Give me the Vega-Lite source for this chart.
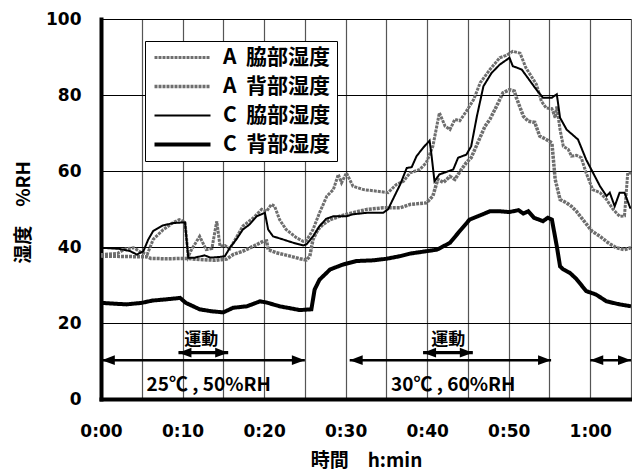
{
  "$schema": "https://vega.github.io/schema/vega-lite/v6.json",
  "width": 530,
  "height": 380,
  "autosize": {"type": "none"},
  "padding": {"left": 101, "top": 19, "right": 1, "bottom": 71},
  "background": "white",
  "config": {
    "view": {"stroke": null},
    "axis": {
      "labelFont": "DejaVu Sans",
      "labelFontWeight": "bold",
      "labelFontSize": 17,
      "labelColor": "black",
      "titleFont": "Noto Sans CJK JP",
      "titleFontWeight": "bold",
      "titleFontSize": 19,
      "titleColor": "black",
      "ticks": false,
      "domainColor": "black",
      "domainWidth": 4,
      "domainCap": "square"
    }
  },
  "datasets": {
    "lines": [
      {"s": "A 脇部湿度", "t": 0, "v": 38.0},
      {"s": "A 脇部湿度", "t": 2, "v": 38.3},
      {"s": "A 脇部湿度", "t": 3, "v": 39.5},
      {"s": "A 脇部湿度", "t": 4, "v": 39.8},
      {"s": "A 脇部湿度", "t": 5, "v": 38.5},
      {"s": "A 脇部湿度", "t": 5.7, "v": 38.2},
      {"s": "A 脇部湿度", "t": 6.4, "v": 42},
      {"s": "A 脇部湿度", "t": 7.6, "v": 44.5},
      {"s": "A 脇部湿度", "t": 8.9, "v": 46.5},
      {"s": "A 脇部湿度", "t": 9.6, "v": 47.2},
      {"s": "A 脇部湿度", "t": 10.3, "v": 46.6},
      {"s": "A 脇部湿度", "t": 10.7, "v": 37.5},
      {"s": "A 脇部湿度", "t": 11.1, "v": 39.3},
      {"s": "A 脇部湿度", "t": 12.1, "v": 42.8},
      {"s": "A 脇部湿度", "t": 12.9, "v": 39.3},
      {"s": "A 脇部湿度", "t": 13.6, "v": 39.6},
      {"s": "A 脇部湿度", "t": 14.2, "v": 46.8},
      {"s": "A 脇部湿度", "t": 14.6, "v": 40.2},
      {"s": "A 脇部湿度", "t": 15.2, "v": 40.4},
      {"s": "A 脇部湿度", "t": 15.8, "v": 39.5},
      {"s": "A 脇部湿度", "t": 16.6, "v": 42.5},
      {"s": "A 脇部湿度", "t": 17.4, "v": 45.5},
      {"s": "A 脇部湿度", "t": 18.7, "v": 47.7},
      {"s": "A 脇部湿度", "t": 19.7, "v": 49.9},
      {"s": "A 脇部湿度", "t": 20.3, "v": 49.4},
      {"s": "A 脇部湿度", "t": 20.9, "v": 51.2},
      {"s": "A 脇部湿度", "t": 21.3, "v": 50.7},
      {"s": "A 脇部湿度", "t": 21.9, "v": 47.2},
      {"s": "A 脇部湿度", "t": 22.7, "v": 44.6},
      {"s": "A 脇部湿度", "t": 24, "v": 42.4},
      {"s": "A 脇部湿度", "t": 24.8, "v": 41.5},
      {"s": "A 脇部湿度", "t": 25.2, "v": 41.7},
      {"s": "A 脇部湿度", "t": 26, "v": 44.6},
      {"s": "A 脇部湿度", "t": 26.8, "v": 49},
      {"s": "A 脇部湿度", "t": 27.7, "v": 53.4},
      {"s": "A 脇部湿度", "t": 28.5, "v": 55.1},
      {"s": "A 脇部湿度", "t": 29.1, "v": 59.1},
      {"s": "A 脇部湿度", "t": 29.5, "v": 56.9},
      {"s": "A 脇部湿度", "t": 30.1, "v": 59.5},
      {"s": "A 脇部湿度", "t": 30.9, "v": 56},
      {"s": "A 脇部湿度", "t": 32.2, "v": 55.1},
      {"s": "A 脇部湿度", "t": 33.8, "v": 54.7},
      {"s": "A 脇部湿度", "t": 35.2, "v": 54.3},
      {"s": "A 脇部湿度", "t": 36.2, "v": 56.4},
      {"s": "A 脇部湿度", "t": 37.1, "v": 57.3},
      {"s": "A 脇部湿度", "t": 37.9, "v": 59.5},
      {"s": "A 脇部湿度", "t": 39.1, "v": 60.4},
      {"s": "A 脇部湿度", "t": 39.9, "v": 62.2},
      {"s": "A 脇部湿度", "t": 40.7, "v": 66.5},
      {"s": "A 脇部湿度", "t": 41.5, "v": 75.3},
      {"s": "A 脇部湿度", "t": 42.2, "v": 71.8},
      {"s": "A 脇部湿度", "t": 42.8, "v": 70.9},
      {"s": "A 脇部湿度", "t": 43.4, "v": 73.6},
      {"s": "A 脇部湿度", "t": 44, "v": 73.2},
      {"s": "A 脇部湿度", "t": 44.8, "v": 75.7},
      {"s": "A 脇部湿度", "t": 45.7, "v": 78.8},
      {"s": "A 脇部湿度", "t": 46.5, "v": 83.2},
      {"s": "A 脇部湿度", "t": 47.7, "v": 86.7},
      {"s": "A 脇部湿度", "t": 48.9, "v": 89.8},
      {"s": "A 脇部湿度", "t": 49.7, "v": 90.4},
      {"s": "A 脇部湿度", "t": 50.5, "v": 91.5},
      {"s": "A 脇部湿度", "t": 51.4, "v": 91},
      {"s": "A 脇部湿度", "t": 52.1, "v": 87.2},
      {"s": "A 脇部湿度", "t": 53.4, "v": 82.8},
      {"s": "A 脇部湿度", "t": 54, "v": 78.4},
      {"s": "A 脇部湿度", "t": 54.6, "v": 76.6},
      {"s": "A 脇部湿度", "t": 55.3, "v": 76.4},
      {"s": "A 脇部湿度", "t": 55.7, "v": 74},
      {"s": "A 脇部湿度", "t": 55.9, "v": 77},
      {"s": "A 脇部湿度", "t": 56.3, "v": 70.9},
      {"s": "A 脇部湿度", "t": 56.7, "v": 66.5},
      {"s": "A 脇部湿度", "t": 57.3, "v": 65.7},
      {"s": "A 脇部湿度", "t": 57.7, "v": 63.9},
      {"s": "A 脇部湿度", "t": 58.3, "v": 64.1},
      {"s": "A 脇部湿度", "t": 58.9, "v": 63.5},
      {"s": "A 脇部湿度", "t": 59.5, "v": 59.5},
      {"s": "A 脇部湿度", "t": 60.3, "v": 55.1},
      {"s": "A 脇部湿度", "t": 61.2, "v": 54.3},
      {"s": "A 脇部湿度", "t": 62, "v": 52.5},
      {"s": "A 脇部湿度", "t": 62.8, "v": 49.9},
      {"s": "A 脇部湿度", "t": 63.6, "v": 48.1},
      {"s": "A 脇部湿度", "t": 64.2, "v": 48.2},
      {"s": "A 脇部湿度", "t": 64.6, "v": 59.5},
      {"s": "A 脇部湿度", "t": 65, "v": 59.5},

      {"s": "A 背部湿度", "t": 0, "v": 37.6},
      {"s": "A 背部湿度", "t": 3, "v": 37.5},
      {"s": "A 背部湿度", "t": 5.7, "v": 37.4},
      {"s": "A 背部湿度", "t": 6.1, "v": 37.0},
      {"s": "A 背部湿度", "t": 8, "v": 36.9},
      {"s": "A 背部湿度", "t": 10.5, "v": 37.0},
      {"s": "A 背部湿度", "t": 12.1, "v": 36.7},
      {"s": "A 背部湿度", "t": 14, "v": 36.5},
      {"s": "A 背部湿度", "t": 15.4, "v": 36.8},
      {"s": "A 背部湿度", "t": 16.2, "v": 38},
      {"s": "A 背部湿度", "t": 17.4, "v": 38.9},
      {"s": "A 背部湿度", "t": 18.7, "v": 40.2},
      {"s": "A 背部湿度", "t": 19.9, "v": 41.5},
      {"s": "A 背部湿度", "t": 20.3, "v": 41.6},
      {"s": "A 背部湿度", "t": 20.5, "v": 39.3},
      {"s": "A 背部湿度", "t": 21.5, "v": 38.5},
      {"s": "A 背部湿度", "t": 23.2, "v": 37.6},
      {"s": "A 背部湿度", "t": 24.4, "v": 36.9},
      {"s": "A 背部湿度", "t": 25.2, "v": 36.6},
      {"s": "A 背部湿度", "t": 25.6, "v": 37.5},
      {"s": "A 背部湿度", "t": 26, "v": 42},
      {"s": "A 背部湿度", "t": 26.6, "v": 44.6},
      {"s": "A 背部湿度", "t": 27.2, "v": 45.9},
      {"s": "A 背部湿度", "t": 28.1, "v": 47.2},
      {"s": "A 背部湿度", "t": 29.3, "v": 48.1},
      {"s": "A 背部湿度", "t": 30.9, "v": 49},
      {"s": "A 背部湿度", "t": 32.6, "v": 49.9},
      {"s": "A 背部湿度", "t": 34.6, "v": 50.3},
      {"s": "A 背部湿度", "t": 36.7, "v": 50.3},
      {"s": "A 背部湿度", "t": 37.9, "v": 51.2},
      {"s": "A 背部湿度", "t": 39.9, "v": 51.6},
      {"s": "A 背部湿度", "t": 40.7, "v": 53.4},
      {"s": "A 背部湿度", "t": 41.3, "v": 57.8},
      {"s": "A 背部湿度", "t": 42, "v": 57},
      {"s": "A 背部湿度", "t": 42.8, "v": 58.6},
      {"s": "A 背部湿度", "t": 43.4, "v": 57.8},
      {"s": "A 背部湿度", "t": 44.2, "v": 60.4},
      {"s": "A 背部湿度", "t": 44.8, "v": 62.2},
      {"s": "A 背部湿度", "t": 45.4, "v": 63.5},
      {"s": "A 背部湿度", "t": 46.2, "v": 67.4},
      {"s": "A 背部湿度", "t": 47.1, "v": 71.8},
      {"s": "A 背部湿度", "t": 47.7, "v": 73.6},
      {"s": "A 背部湿度", "t": 48.5, "v": 77},
      {"s": "A 背部湿度", "t": 49.3, "v": 80.6},
      {"s": "A 背部湿度", "t": 50.1, "v": 81.4},
      {"s": "A 背部湿度", "t": 50.7, "v": 81},
      {"s": "A 背部湿度", "t": 50.9, "v": 79.5},
      {"s": "A 背部湿度", "t": 51.8, "v": 74.4},
      {"s": "A 背部湿度", "t": 52.4, "v": 73.1},
      {"s": "A 背部湿度", "t": 53.2, "v": 72.8},
      {"s": "A 背部湿度", "t": 53.8, "v": 69.2},
      {"s": "A 背部湿度", "t": 54.6, "v": 68.3},
      {"s": "A 背部湿度", "t": 55.3, "v": 67.4},
      {"s": "A 背部湿度", "t": 55.7, "v": 57.8},
      {"s": "A 背部湿度", "t": 56.3, "v": 52.5},
      {"s": "A 背部湿度", "t": 57.1, "v": 51.6},
      {"s": "A 背部湿度", "t": 57.7, "v": 50.7},
      {"s": "A 背部湿度", "t": 58.3, "v": 49.4},
      {"s": "A 背部湿度", "t": 59.1, "v": 47.2},
      {"s": "A 背部湿度", "t": 60.2, "v": 44.2},
      {"s": "A 背部湿度", "t": 61.2, "v": 42.8},
      {"s": "A 背部湿度", "t": 62.2, "v": 41.1},
      {"s": "A 背部湿度", "t": 63.2, "v": 39.8},
      {"s": "A 背部湿度", "t": 64.2, "v": 39.3},
      {"s": "A 背部湿度", "t": 65, "v": 39.8},

      {"s": "C 脇部湿度", "t": 0, "v": 39.8},
      {"s": "C 脇部湿度", "t": 2.3, "v": 39.5},
      {"s": "C 脇部湿度", "t": 3.6, "v": 38.9},
      {"s": "C 脇部湿度", "t": 4.4, "v": 38.0},
      {"s": "C 脇部湿度", "t": 5.2, "v": 38.9},
      {"s": "C 脇部湿度", "t": 5.8, "v": 42},
      {"s": "C 脇部湿度", "t": 6.4, "v": 44.2},
      {"s": "C 脇部湿度", "t": 7.6, "v": 45.7},
      {"s": "C 脇部湿度", "t": 8.9, "v": 46.3},
      {"s": "C 脇部湿度", "t": 10.3, "v": 46.5},
      {"s": "C 脇部湿度", "t": 10.7, "v": 37.2},
      {"s": "C 脇部湿度", "t": 11.5, "v": 37.2},
      {"s": "C 脇部湿度", "t": 12.7, "v": 37.8},
      {"s": "C 脇部湿度", "t": 13.4, "v": 37.2},
      {"s": "C 脇部湿度", "t": 14.6, "v": 37.4},
      {"s": "C 脇部湿度", "t": 15.2, "v": 37.6},
      {"s": "C 脇部湿度", "t": 15.8, "v": 39.8},
      {"s": "C 脇部湿度", "t": 16.6, "v": 42},
      {"s": "C 脇部湿度", "t": 17.4, "v": 44.6},
      {"s": "C 脇部湿度", "t": 18.2, "v": 45.9},
      {"s": "C 脇部湿度", "t": 19.1, "v": 48.1},
      {"s": "C 脇部湿度", "t": 20.1, "v": 49},
      {"s": "C 脇部湿度", "t": 20.5, "v": 44.6},
      {"s": "C 脇部湿度", "t": 21.1, "v": 42.8},
      {"s": "C 脇部湿度", "t": 22.3, "v": 42},
      {"s": "C 脇部湿度", "t": 23.6, "v": 41.1},
      {"s": "C 脇部湿度", "t": 24.8, "v": 40.4},
      {"s": "C 脇部湿度", "t": 25.2, "v": 40.7},
      {"s": "C 脇部湿度", "t": 26, "v": 42.8},
      {"s": "C 脇部湿度", "t": 26.8, "v": 45.5},
      {"s": "C 脇部湿度", "t": 27.6, "v": 47.4},
      {"s": "C 脇部湿度", "t": 28.5, "v": 48.1},
      {"s": "C 脇部湿度", "t": 30.1, "v": 48.1},
      {"s": "C 脇部湿度", "t": 30.9, "v": 48.6},
      {"s": "C 脇部湿度", "t": 32.6, "v": 49},
      {"s": "C 脇部湿度", "t": 34.6, "v": 49},
      {"s": "C 脇部湿度", "t": 35.2, "v": 49.9},
      {"s": "C 脇部湿度", "t": 36.2, "v": 54.3},
      {"s": "C 脇部湿度", "t": 36.7, "v": 56.5},
      {"s": "C 脇部湿度", "t": 37.5, "v": 60.8},
      {"s": "C 脇部湿度", "t": 38.1, "v": 61},
      {"s": "C 脇部湿度", "t": 38.7, "v": 63.9},
      {"s": "C 脇部湿度", "t": 39.5, "v": 66.1},
      {"s": "C 脇部湿度", "t": 40.3, "v": 68},
      {"s": "C 脇部湿度", "t": 40.5, "v": 64.8},
      {"s": "C 脇部湿度", "t": 40.9, "v": 57.3},
      {"s": "C 脇部湿度", "t": 41.5, "v": 59.1},
      {"s": "C 脇部湿度", "t": 43.2, "v": 60.4},
      {"s": "C 脇部湿度", "t": 43.8, "v": 63.5},
      {"s": "C 脇部湿度", "t": 44.8, "v": 64.3},
      {"s": "C 脇部湿度", "t": 45.4, "v": 66.5},
      {"s": "C 脇部湿度", "t": 46.1, "v": 74.4},
      {"s": "C 脇部湿度", "t": 46.9, "v": 82.3},
      {"s": "C 脇部湿度", "t": 47.9, "v": 85.8},
      {"s": "C 脇部湿度", "t": 48.9, "v": 88},
      {"s": "C 脇部湿度", "t": 50.1, "v": 89.8},
      {"s": "C 脇部湿度", "t": 50.5, "v": 87.6},
      {"s": "C 脇部湿度", "t": 51.6, "v": 86.7},
      {"s": "C 脇部湿度", "t": 53.4, "v": 81.4},
      {"s": "C 脇部湿度", "t": 54.2, "v": 79.3},
      {"s": "C 脇部湿度", "t": 55.3, "v": 79.3},
      {"s": "C 脇部湿度", "t": 55.9, "v": 80.2},
      {"s": "C 脇部湿度", "t": 56.3, "v": 74},
      {"s": "C 脇部湿度", "t": 57.1, "v": 70.9},
      {"s": "C 脇部湿度", "t": 58.5, "v": 68.3},
      {"s": "C 脇部湿度", "t": 59.5, "v": 63},
      {"s": "C 脇部湿度", "t": 61.2, "v": 56},
      {"s": "C 脇部湿度", "t": 62, "v": 53.4},
      {"s": "C 脇部湿度", "t": 62.4, "v": 54.3},
      {"s": "C 脇部湿度", "t": 63, "v": 50.7},
      {"s": "C 脇部湿度", "t": 63.6, "v": 54.3},
      {"s": "C 脇部湿度", "t": 64.2, "v": 54.3},
      {"s": "C 脇部湿度", "t": 64.9, "v": 50.3},
      {"s": "C 脇部湿度", "t": 65, "v": 50.3},

      {"s": "C 背部湿度", "t": 0, "v": 25.3},
      {"s": "C 背部湿度", "t": 3.1, "v": 24.9},
      {"s": "C 背部湿度", "t": 5, "v": 25.3},
      {"s": "C 背部湿度", "t": 6.3, "v": 25.9},
      {"s": "C 背部湿度", "t": 7.9, "v": 26.2},
      {"s": "C 背部湿度", "t": 9.7, "v": 26.6},
      {"s": "C 背部湿度", "t": 10.4, "v": 25.3},
      {"s": "C 背部湿度", "t": 12.1, "v": 23.6},
      {"s": "C 背部湿度", "t": 13.5, "v": 23.1},
      {"s": "C 背部湿度", "t": 15, "v": 22.8},
      {"s": "C 背部湿度", "t": 16.2, "v": 24},
      {"s": "C 背部湿度", "t": 17.9, "v": 24.4},
      {"s": "C 背部湿度", "t": 19.5, "v": 25.7},
      {"s": "C 背部湿度", "t": 20.3, "v": 25.4},
      {"s": "C 背部湿度", "t": 21.9, "v": 24.4},
      {"s": "C 背部湿度", "t": 24.4, "v": 23.4},
      {"s": "C 背部湿度", "t": 25.8, "v": 23.6},
      {"s": "C 背部湿度", "t": 26.2, "v": 28.8},
      {"s": "C 背部湿度", "t": 26.8, "v": 31.4},
      {"s": "C 背部湿度", "t": 28.1, "v": 34.1},
      {"s": "C 背部湿度", "t": 29.7, "v": 35.4},
      {"s": "C 背部湿度", "t": 31.3, "v": 36.3},
      {"s": "C 背部湿度", "t": 33.4, "v": 36.5},
      {"s": "C 背部湿度", "t": 35, "v": 36.9},
      {"s": "C 背部湿度", "t": 36.7, "v": 37.6},
      {"s": "C 背部湿度", "t": 38, "v": 38.3},
      {"s": "C 背部湿度", "t": 41.2, "v": 39.3},
      {"s": "C 背部湿度", "t": 42.8, "v": 41.1},
      {"s": "C 背部湿度", "t": 44, "v": 44.2},
      {"s": "C 背部湿度", "t": 45.2, "v": 47.2},
      {"s": "C 背部湿度", "t": 46.8, "v": 48.6},
      {"s": "C 背部湿度", "t": 47.7, "v": 49.4},
      {"s": "C 背部湿度", "t": 48.9, "v": 49.4},
      {"s": "C 背部湿度", "t": 50.1, "v": 49.2},
      {"s": "C 背部湿度", "t": 51.2, "v": 49.7},
      {"s": "C 背部湿度", "t": 51.8, "v": 48.8},
      {"s": "C 背部湿度", "t": 52.4, "v": 49.4},
      {"s": "C 背部湿度", "t": 53.1, "v": 47.7},
      {"s": "C 背部湿度", "t": 54.2, "v": 46.8},
      {"s": "C 背部湿度", "t": 54.8, "v": 47.7},
      {"s": "C 背部湿度", "t": 55.3, "v": 47.2},
      {"s": "C 背部湿度", "t": 55.9, "v": 40.2},
      {"s": "C 背部湿度", "t": 56.3, "v": 34.9},
      {"s": "C 背部湿度", "t": 56.7, "v": 34.1},
      {"s": "C 背部湿度", "t": 57.5, "v": 33.2},
      {"s": "C 背部湿度", "t": 58.3, "v": 31.6},
      {"s": "C 背部湿度", "t": 59.5, "v": 28.4},
      {"s": "C 背部湿度", "t": 60.7, "v": 27.5},
      {"s": "C 背部湿度", "t": 62, "v": 25.7},
      {"s": "C 背部湿度", "t": 63.6, "v": 24.9},
      {"s": "C 背部湿度", "t": 65, "v": 24.4}
    ],
    "arrows": [
      {"kind": "period", "a": 0.1, "b": 25, "y": 10.2},
      {"kind": "period", "a": 30.5, "b": 55.2, "y": 10.2},
      {"kind": "period", "a": 60, "b": 65, "y": 10.2},
      {"kind": "exercise", "a": 9.5, "b": 15.6, "y": 12.2},
      {"kind": "exercise", "a": 39.5, "b": 45.6, "y": 12.2}
    ],
    "labels": [
      {"kind": "exercise", "text": "運動", "t": 12.3, "v": 15.4},
      {"kind": "exercise", "text": "運動", "t": 42.6, "v": 15.4},
      {"kind": "condition", "text": "25℃ , 50%RH", "t": 13.2, "v": 3.7},
      {"kind": "condition", "text": "30℃ , 60%RH", "t": 43.2, "v": 3.7}
    ]
  },
  "layer": [
    {
      "data": {"name": "lines"},
      "mark": {"type": "line", "clip": true, "strokeJoin": "miter"},
      "encoding": {
        "x": {
          "field": "t",
          "type": "quantitative",
          "scale": {"domain": [0, 65], "nice": false, "zero": false},
          "axis": {
            "title": "時間　h:min",
            "values": [0, 5, 10, 15, 20, 25, 30, 35, 40, 45, 50, 55, 60, 65],
            "labelExpr": "datum.value % 10 == 0 ? floor(datum.value / 60) + ':' + (datum.value % 60 < 10 ? '0' : '') + (datum.value % 60) : ''",
            "labelPadding": 24,
            "labelFlush": false,
            "labelOverlap": false,
            "grid": true,
            "gridColor": "#555555",
            "gridWidth": 1.2,
            "titleY": 61,
            "titleBaseline": "middle"
          }
        },
        "y": {
          "field": "v",
          "type": "quantitative",
          "scale": {"domain": [0, 100], "nice": false},
          "axis": {
            "title": "湿度　%RH",
            "values": [0, 20, 40, 60, 80, 100],
            "labelPadding": 20,
            "labelFlush": false,
            "grid": true,
            "gridColor": "black",
            "gridWidth": 1,
            "titleX": -78,
            "titleY": 193,
            "titleAngle": 270,
            "titleAlign": "center",
            "titleBaseline": "middle"
          }
        },
        "color": {
          "field": "s",
          "type": "nominal",
          "scale": {
            "domain": ["A 脇部湿度", "A 背部湿度", "C 脇部湿度", "C 背部湿度"],
            "range": ["#6e6e6e", "#6e6e6e", "black", "black"]
          },
          "legend": {
            "title": null,
            "orient": "none",
            "legendX": 44,
            "legendY": 22,
            "direction": "vertical",
            "fillColor": "white",
            "strokeColor": "black",
            "padding": 6,
            "symbolType": "M-1,0H7",
            "symbolSize": 196,
            "labelFont": "Noto Sans CJK JP",
            "labelFontWeight": "bold",
            "labelFontSize": 21,
            "labelColor": "black",
            "labelOffset": 51,
            "rowPadding": 7,
            "labelLimit": 300,
            "labelExpr": "replace(datum.label, ' ', '\u00a0\u00a0') + '\u00a0'"
          }
        },
        "strokeWidth": {
          "field": "s",
          "type": "nominal",
          "scale": {
            "type": "ordinal",
            "domain": ["A 脇部湿度", "A 背部湿度", "C 脇部湿度", "C 背部湿度"],
            "range": [3, 3.5, 2, 4]
          },
          "legend": {
            "title": null,
            "orient": "none",
            "legendX": 44,
            "legendY": 22
          }
        },
        "strokeDash": {
          "field": "s",
          "type": "nominal",
          "scale": {
            "domain": ["A 脇部湿度", "A 背部湿度", "C 脇部湿度", "C 背部湿度"],
            "range": [[3, 1], [3, 1], [1, 0], [1, 0]]
          },
          "legend": {
            "title": null,
            "orient": "none",
            "legendX": 44,
            "legendY": 22
          }
        }
      }
    },
    {
      "mark": {"type": "rule", "color": "black", "strokeWidth": 4, "strokeCap": "square"},
      "encoding": {"y": {"datum": 100}}
    },
    {
      "data": {"name": "arrows"},
      "transform": [{"filter": "datum.kind == 'period'"}],
      "mark": {"type": "rule", "color": "black", "strokeWidth": 2.6, "clip": true},
      "encoding": {
        "x": {"field": "a", "type": "quantitative"},
        "x2": {"field": "b"},
        "y": {"field": "y", "type": "quantitative"}
      }
    },
    {
      "data": {"name": "arrows"},
      "transform": [{"filter": "datum.kind == 'exercise'"}],
      "mark": {"type": "rule", "color": "black", "strokeWidth": 3.2, "clip": true},
      "encoding": {
        "x": {"field": "a", "type": "quantitative"},
        "x2": {"field": "b"},
        "y": {"field": "y", "type": "quantitative"}
      }
    },
    {
      "data": {"name": "arrows"},
      "mark": {"type": "point", "shape": "M0,0L2,-0.75L2,0.75Z", "filled": true, "color": "black", "opacity": 1, "size": 169, "strokeWidth": 0, "clip": true},
      "encoding": {
        "x": {"field": "a", "type": "quantitative"},
        "y": {"field": "y", "type": "quantitative"}
      }
    },
    {
      "data": {"name": "arrows"},
      "mark": {"type": "point", "shape": "M0,0L-2,-0.75L-2,0.75Z", "filled": true, "color": "black", "opacity": 1, "size": 169, "strokeWidth": 0, "clip": true},
      "encoding": {
        "x": {"field": "b", "type": "quantitative"},
        "y": {"field": "y", "type": "quantitative"}
      }
    },
    {
      "data": {"name": "labels"},
      "transform": [{"filter": "datum.kind == 'exercise'"}],
      "mark": {"type": "text", "font": "Noto Sans CJK JP", "fontWeight": "bold", "fontSize": 17, "color": "black", "align": "center", "baseline": "middle"},
      "encoding": {
        "x": {"field": "t", "type": "quantitative"},
        "y": {"field": "v", "type": "quantitative"},
        "text": {"field": "text"}
      }
    },
    {
      "data": {"name": "labels"},
      "transform": [{"filter": "datum.kind == 'condition'"}],
      "mark": {"type": "text", "font": "Noto Sans CJK JP", "fontWeight": "bold", "fontSize": 19, "color": "black", "align": "center", "baseline": "middle"},
      "encoding": {
        "x": {"field": "t", "type": "quantitative"},
        "y": {"field": "v", "type": "quantitative"},
        "text": {"field": "text"}
      }
    }
  ]
}
